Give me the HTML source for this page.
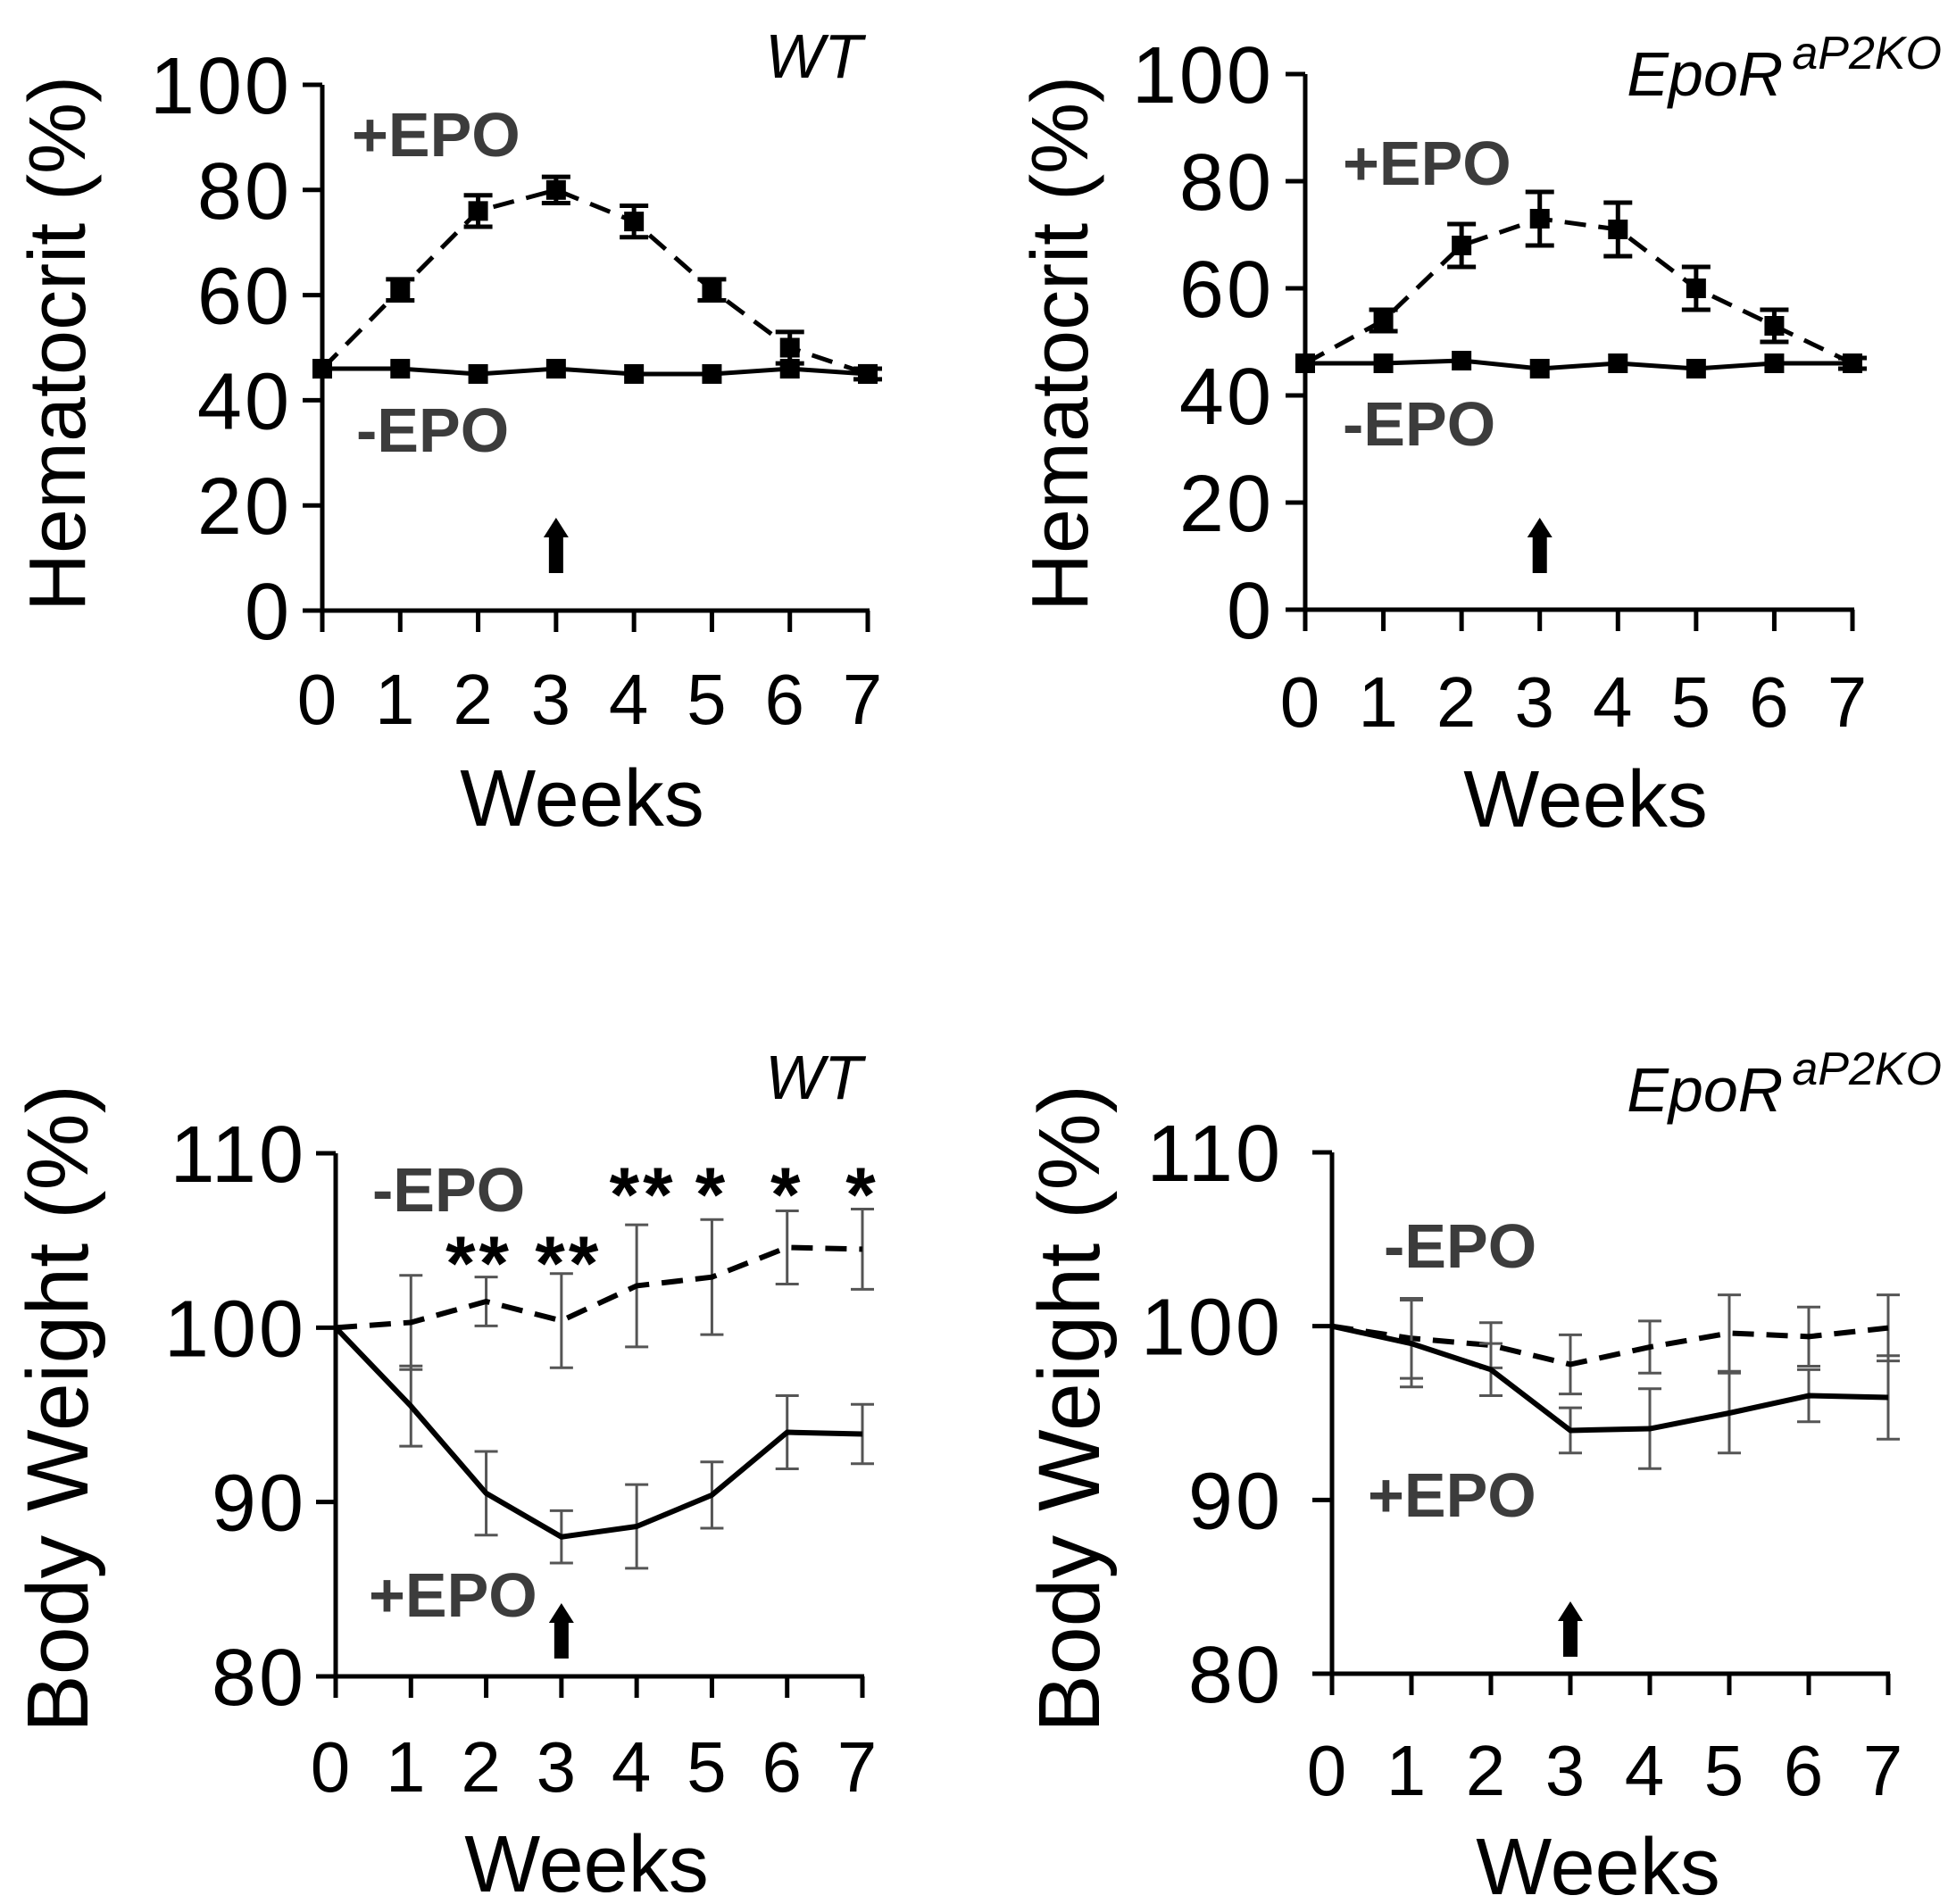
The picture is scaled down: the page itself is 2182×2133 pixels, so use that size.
<!DOCTYPE html>
<html><head><meta charset="utf-8">
<style>
html,body{margin:0;padding:0;background:#fff;}
svg{display:block;}
text{font-family:"Liberation Sans",Arial,sans-serif;}
</style></head>
<body>
<svg id="fig" width="2182" height="2133" viewBox="0 0 2182 2133" xmlns="http://www.w3.org/2000/svg"></svg>
<script>
// ---- data ----
const weeks = [0,1,2,3,4,5,6,7];
const hctYTicks = [0,20,40,60,80,100];
const bwYTicks = [80,90,100,110];
// Panel A (WT hematocrit)
const wtHctPlus = [46,61,76,80,74,61,50,45];
const wtHctPlusErr = [0,2,3,2.5,3,2,3,1];
const wtHctMinus = [46,46,45,46,45,45,46,45];
// Panel B (EpoR aP2KO hematocrit)
const koHctPlus = [46,54,68,73,71,60,53,46];
const koHctPlusErr = [0,2,4,5,5,4,3,1];
const koHctMinus = [46,46,46.5,45,46,45,46,46];
// Panel C (WT body weight)
const wtBwMinus = [100,100.3,101.5,100.4,102.4,102.9,104.6,104.5];
const wtBwMinusErr = [0,2.7,1.4,2.7,3.5,3.3,2.1,2.3];
const wtBwPlus = [100,95.5,90.5,88,88.6,90.4,94,93.9];
const wtBwPlusErr = [0,2.3,2.4,1.5,2.4,1.9,2.1,1.7];
const sigLabels = ["","","**","**","**","*","*","*"];
const sigRow = [0,0,0,0,1,1,1,1];
// Panel D (EpoR aP2KO body weight)
const koBwMinus = [100,99.3,98.9,97.8,98.8,99.6,99.4,99.9];
const koBwMinusErr = [0,2.3,1.3,1.7,1.5,2.2,1.7,1.9];
const koBwPlus = [100,99,97.5,94,94.1,95,96,95.9];
const koBwPlusErr = [0,2.5,1.5,1.3,2.3,2.3,1.5,2.4];

const NS = "http://www.w3.org/2000/svg";
const svg = document.getElementById('fig');
function mk(tag, attrs, parent){
  const e = document.createElementNS(NS, tag);
  for (const k in attrs) e.setAttribute(k, attrs[k]);
  (parent||svg).appendChild(e);
  return e;
}
function txt(str, x, y, size, parent, extra){
  const t = mk('text', Object.assign({x:x, y:y, 'font-size':size, fill:'#000'}, extra||{}), parent);
  t.textContent = str;
  return t;
}

function panel(cfg){
  const g = mk('g', {});
  
  
  const xs = w => cfg.x0 + (cfg.x7 - cfg.x0) * w / 7;
  const ys = v => cfg.yBot + (cfg.yTop - cfg.yBot) * (v - cfg.ymin) / (cfg.ymax - cfg.ymin);
  const ya = mk('line', {x1:cfg.x0, y1:ys(cfg.ymax), x2:cfg.x0, y2:ys(cfg.ymin), stroke:'#000', 'stroke-width':5}, g);
  
  
  const xa = mk('line', {x1:cfg.x0 - 22, y1:ys(cfg.ymin), x2:cfg.x7 + 2, y2:ys(cfg.ymin), stroke:'#000', 'stroke-width':5}, g);
  
  
  cfg.yTicks.forEach(v => {
    mk('line', {x1:cfg.x0 - 22, y1:ys(v), x2:cfg.x0, y2:ys(v), stroke:'#000', 'stroke-width':5}, g);
    const t = txt(String(v), cfg.tickRight + 5, ys(v) + 32, 90, g, {'text-anchor':'end', 'letter-spacing':3});
    
    
  });
  weeks.forEach(w => {
    mk('line', {x1:xs(w), y1:ys(cfg.ymin), x2:xs(w), y2:ys(cfg.ymin) + 24, stroke:'#000', 'stroke-width':5}, g);
    const t = txt(String(w), xs(w) - 6, cfg.weekBase, 80, g, {'text-anchor':'middle'});
    
    
  });
  const xt = txt('Weeks', cfg.weeksX, cfg.weeksBase, 90, g, {'text-anchor':'middle'});
  
  
  const yt = txt(cfg.ytitle, 0, 0, cfg.ytSize, g, {'text-anchor':'middle', transform:'translate(' + (cfg.ytX + 32) + ',' + cfg.ytY + ') rotate(-90)'});
  
  

  cfg.series.forEach(s => {
    const sg = mk('g', {}, g);
    
    
    if (s.err){
      s.vals.forEach((v, i) => {
        const e = s.err[i];
        if (!e) return;
        const x = xs(weeks[i]);
        const eb = mk('path', {d:'M' + x + ' ' + ys(v + e) + 'V' + ys(v - e) +
          'M' + (x - s.cap) + ' ' + ys(v + e) + 'H' + (x + s.cap) +
          'M' + (x - s.cap) + ' ' + ys(v - e) + 'H' + (x + s.cap),
          stroke:s.errColor, 'stroke-width':s.errW, fill:'none'}, sg);
        
        
      });
    }
    const pts = s.vals.map((v, i) => xs(weeks[i]) + ',' + ys(v)).join(' ');
    const ln = mk('polyline', {points:pts, fill:'none', stroke:'#000', 'stroke-width':s.lw,
      'stroke-dasharray':s.dash ? '24 14' : 'none', 'stroke-linejoin':'round'}, sg);
    
    
    if (s.marker){
      s.vals.forEach((v, i) => {
        const m = mk('rect', {x:xs(weeks[i]) - 11, y:ys(v) - 11, width:22, height:22, fill:'#000'}, sg);
        
        
      });
    }
  });

  cfg.labels.forEach(l => {
    const t = txt(l.t, l.x, l.y, 70, g, {'font-weight':'bold', fill:'#3c3c3c'});
    
    
  });
  const tt = mk('text', {x:cfg.titleRight, y:cfg.titleBase, 'font-size':70, 'font-style':'italic', 'text-anchor':'end', fill:'#000'}, g);
  
  
  if (cfg.title === 'WT'){ tt.textContent = 'WT'; }
  else {
    const a = mk('tspan', {}, tt); a.textContent = 'EpoR';
    const b = mk('tspan', {'font-size':52, dy:-30, dx:10}, tt); b.textContent = 'aP2KO';
  }
  const ax = xs(3), ay = cfg.arrowY;
  const ar = mk('path', {d:'M' + (ax - 8) + ' ' + (ay + 62) + 'V' + (ay + 22) + 'H' + (ax - 14) + 'L' + ax + ' ' + ay +
    'L' + (ax + 14) + ' ' + (ay + 22) + 'H' + (ax + 8) + 'V' + (ay + 62) + 'Z', fill:'#000'}, g);
  
  
  return {g, xs, ys};
}

panel({name:'panel-wt-hematocrit', x0:361, x7:972, yTop:95, yBot:684, ymin:0, ymax:100, yTicks:hctYTicks,
  tickRight:322, weekBase:811, weeksX:652, weeksBase:925, ytitle:'Hematocrit (%)', ytSize:90, ytX:63, ytY:385,
  series:[
    {name:'series-plus-epo', vals:wtHctPlus, err:wtHctPlusErr, errColor:'#000', errW:5, cap:16, lw:5, dash:true, marker:true},
    {name:'series-minus-epo', vals:wtHctMinus, lw:5, dash:false, marker:true}
  ],
  labels:[{t:'+EPO', x:394, y:175, name:'plus-epo-label'}, {t:'-EPO', x:399, y:506, name:'minus-epo-label'}],
  title:'WT', titleRight:966, titleBase:87, arrowY:580});

panel({name:'panel-ko-hematocrit', x0:1462, x7:2075, yTop:83, yBot:683, ymin:0, ymax:100, yTicks:hctYTicks,
  tickRight:1422, weekBase:814, weeksX:1776, weeksBase:926, ytitle:'Hematocrit (%)', ytSize:90, ytX:1186, ytY:385,
  series:[
    {name:'series-plus-epo', vals:koHctPlus, err:koHctPlusErr, errColor:'#000', errW:5, cap:16, lw:5, dash:true, marker:true},
    {name:'series-minus-epo', vals:koHctMinus, lw:5, dash:false, marker:true}
  ],
  labels:[{t:'+EPO', x:1504, y:207, name:'plus-epo-label'}, {t:'-EPO', x:1504, y:499, name:'minus-epo-label'}],
  title:'KO', titleRight:2175, titleBase:107, arrowY:580});

const pC = panel({name:'panel-wt-body-weight', x0:376, x7:966, yTop:1292, yBot:1878, ymin:80, ymax:110, yTicks:bwYTicks,
  tickRight:338, weekBase:2007, weeksX:657, weeksBase:2119, ytitle:'Body Weight (%)', ytSize:97, ytX:66, ytY:1578,
  series:[
    {name:'series-minus-epo', vals:wtBwMinus, err:wtBwMinusErr, errColor:'#555', errW:3, cap:13, lw:6, dash:true},
    {name:'series-plus-epo', vals:wtBwPlus, err:wtBwPlusErr, errColor:'#555', errW:3, cap:13, lw:6, dash:false}
  ],
  labels:[{t:'-EPO', x:417, y:1357, name:'minus-epo-label'}, {t:'+EPO', x:413, y:1811, name:'plus-epo-label'}],
  title:'WT', titleRight:966, titleBase:1231, arrowY:1796});

const starRowY = [1397, 1320];
const starShift = [0,0,-8,8,7,0,0,0];
sigLabels.forEach((s, i) => {
  if (!s) return;
  const x = pC.xs(weeks[i]) + starShift[i];
  const t = txt(s, x, starRowY[sigRow[i]] + 48, 86, pC.g, {'text-anchor':'middle', 'font-weight':'bold', 'letter-spacing':4});
  
  
});

panel({name:'panel-ko-body-weight', x0:1492, x7:2115, yTop:1291, yBot:1875, ymin:80, ymax:110, yTicks:bwYTicks,
  tickRight:1432, weekBase:2011, weeksX:1790, weeksBase:2122, ytitle:'Body Weight (%)', ytSize:97, ytX:1199, ytY:1578,
  series:[
    {name:'series-minus-epo', vals:koBwMinus, err:koBwMinusErr, errColor:'#555', errW:3, cap:13, lw:6, dash:true},
    {name:'series-plus-epo', vals:koBwPlus, err:koBwPlusErr, errColor:'#555', errW:3, cap:13, lw:6, dash:false}
  ],
  labels:[{t:'-EPO', x:1550, y:1420, name:'minus-epo-label'}, {t:'+EPO', x:1532, y:1699, name:'plus-epo-label'}],
  title:'KO', titleRight:2175, titleBase:1245, arrowY:1794});
</script>
</body></html>
